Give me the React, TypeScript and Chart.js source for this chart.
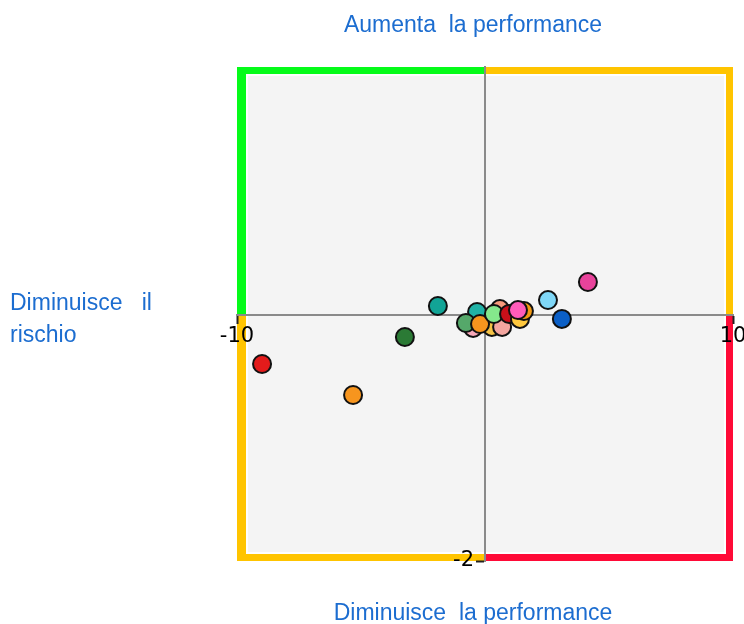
import React, { useEffect, useRef } from "react";
import { Chart, registerables } from "chart.js";

Chart.register(...registerables);

// ---- data ----
const xValues = [-8.99, -5.32, -3.23, -1.9, 2.54, 4.15, 3.1, -0.32, 0.6, -0.48, -0.77, 0.28, 0.69, -0.2, 0.36, 0.97, 1.41, 1.57, 1.33];
const yValues = [-0.405, -0.656, -0.186, 0.065, 0.113, 0.259, -0.04, 0.016, 0.04, -0.113, -0.073, -0.105, -0.105, -0.081, 0.0, 0.0, -0.04, 0.024, 0.032];
const pointColors = [
  "#e31b1b", "#f7951e", "#2b7a35", "#12a496", "#7fd7f7", "#e8439b", "#0b5fc6",
  "#20b2a6", "#f79a7c", "#f7a8b8", "#55a86a", "#f5c346", "#f4a6a0", "#f7951e",
  "#85e88c", "#c8101a", "#ffc83e", "#f39a14", "#ff5cba",
];
const xRange = [-10, 10];
const yRange = [-2, 2];
const xTickValues = [-10, 10];
const yTickValues = [-2];

const topLabel = "Aumenta  la performance";
const bottomLabel = "Diminuisce  la performance";
const leftLabelLines = ["Diminuisce   il", "rischio"];

const quadrantColors = {
  topLeft: "#05fb19",
  topRight: "#ffc400",
  bottomLeft: "#ffc400",
  bottomRight: "#ff0a37",
};

const quadrantPlugin = {
  id: "quadrants",
  beforeDraw(chart: any) {
    const { ctx, chartArea } = chart;
    const { left, right, top, bottom } = chartArea;
    const cx = chart.scales.x.getPixelForValue(0);
    const cy = chart.scales.y.getPixelForValue(0);
    ctx.save();
    ctx.fillStyle = "#f4f4f4";
    ctx.fillRect(left, top, right - left, bottom - top);
    const tl = 9, tt = 7, tr = 7, tb = 7;
    ctx.strokeStyle = "rgba(255,255,255,0.9)";
    ctx.lineWidth = 2;
    ctx.strokeRect(left + tl + 1, top + tt + 1, right - left - tl - tr - 2, bottom - top - tt - tb - 2);
    ctx.fillStyle = quadrantColors.topLeft;
    ctx.fillRect(left, top, cx - left, tt);
    ctx.fillRect(left, top, tl, cy - top);
    ctx.fillStyle = quadrantColors.topRight;
    ctx.fillRect(cx, top, right - cx, tt);
    ctx.fillRect(right - tr, top, tr, cy - top);
    ctx.fillStyle = quadrantColors.bottomLeft;
    ctx.fillRect(left, cy, tl, bottom - cy);
    ctx.fillRect(left, bottom - tb, cx - left, tb);
    ctx.fillStyle = quadrantColors.bottomRight;
    ctx.fillRect(right - tr, cy, tr, bottom - cy);
    ctx.fillRect(cx, bottom - tb, right - cx, tb);
    ctx.restore();
  },
};

const textStyle: React.CSSProperties = {
  position: "absolute",
  fontFamily: "'Liberation Sans', Arial, sans-serif",
  fontSize: 23,
  color: "#1c6dd0",
  whiteSpace: "pre",
  lineHeight: "32px",
};

export default function App() {
  const canvasRef = useRef<HTMLCanvasElement | null>(null);

  useEffect(() => {
    if (!canvasRef.current) return;
    const data = xValues.map((x, i) => ({ x, y: yValues[i] }));
    const chart = new Chart(canvasRef.current, {
      type: "scatter",
      data: {
        datasets: [
          {
            data,
            backgroundColor: pointColors,
            borderColor: "#111111",
            borderWidth: 2,
            pointRadius: 9,
            pointHoverRadius: 9,
          },
        ],
      },
      options: {
        animation: false,
        responsive: false,
        maintainAspectRatio: false,
        layout: { padding: { left: 237, right: 11, top: 67, bottom: 63 } },
        plugins: { legend: { display: false }, tooltip: { enabled: false }, title: { display: false } },
        scales: {
          x: {
            type: "linear",
            min: xRange[0],
            max: xRange[1],
            position: "center",
            afterBuildTicks: (s: any) => {
              s.ticks = xTickValues.map((v) => ({ value: v }));
            },
            afterFit: (s: any) => {
              s.height = 0;
              s.paddingLeft = 0;
              s.paddingRight = 0;
            },
            grid: { drawOnChartArea: false, drawTicks: true, tickLength: 8, tickColor: "#222", tickWidth: 2 },
            border: { display: true, color: "#8a8a8a", width: 2 },
            ticks: { font: { family: "'DejaVu Sans'", size: 21 }, color: "#000", padding: 2, maxRotation: 0, autoSkip: false },
          },
          y: {
            type: "linear",
            min: yRange[0],
            max: yRange[1],
            position: "center",
            afterBuildTicks: (s: any) => {
              s.ticks = yTickValues.map((v) => ({ value: v }));
            },
            afterFit: (s: any) => {
              s.width = 0;
              s.paddingTop = 0;
              s.paddingBottom = 0;
            },
            grid: { drawOnChartArea: false, drawTicks: true, tickLength: 8, tickColor: "#222", tickWidth: 2 },
            border: { display: true, color: "#8a8a8a", width: 2 },
            ticks: { font: { family: "'DejaVu Sans'", size: 21 }, color: "#000", padding: 3, autoSkip: false },
          },
        },
      },
      plugins: [quadrantPlugin],
    } as any);
    return () => chart.destroy();
  }, []);

  return (
    <div style={{ position: "absolute", left: 0, top: 0, width: 744, height: 624, background: "#fff" }}>
      <canvas ref={canvasRef} width={744} height={624} style={{ position: "absolute", left: 0, top: 0, width: 744, height: 624 }} />
      <div style={{ ...textStyle, left: 0, width: 946, top: 8, textAlign: "center" }}>{topLabel}</div>
      <div style={{ ...textStyle, left: 0, width: 946, top: 596, textAlign: "center" }}>{bottomLabel}</div>
      <div style={{ ...textStyle, left: 10, top: 286 }}>
        {leftLabelLines.map((l, i) => (
          <div key={i}>{l}</div>
        ))}
      </div>
    </div>
  );
}
